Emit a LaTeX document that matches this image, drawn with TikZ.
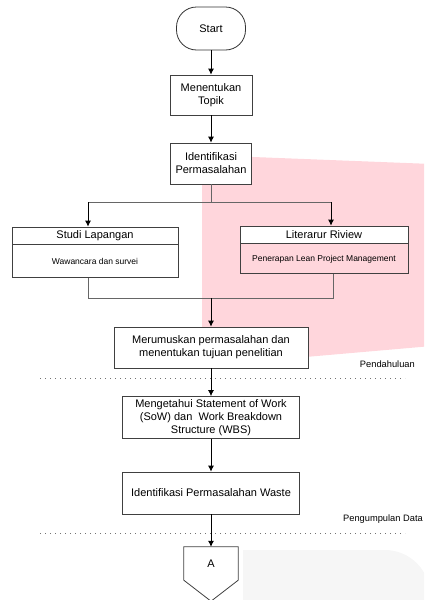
\documentclass[tikz,border=0pt]{standalone}
\usepackage{fontspec}
\setmainfont{Liberation Sans}
\usetikzlibrary{arrows.meta,positioning}
\definecolor{lanepink}{RGB}{255,214,220}
\definecolor{faintgray}{RGB}{246,246,246}

\begin{document}
\begin{tikzpicture}[x=1pt, y=-1pt, font=\fontsize{11}{13}\selectfont]
\tikzstyle{terminal} = [shape=rectangle, rounded corners=20pt, draw=black!80, fill=white, line width=0.8pt, minimum width=69pt, minimum height=43pt];
\tikzstyle{process} = [shape=rectangle, draw=black!75, fill=white, line width=0.8pt, align=center, inner sep=1pt];
\tikzstyle{lanehead} = [shape=rectangle, draw=black!75, fill=white, line width=0.8pt, minimum height=17pt, inner sep=0pt];
\tikzstyle{lanebody} = [shape=rectangle, draw=black!75, line width=0.8pt, inner sep=0pt, font=\fontsize{8.5}{10}\selectfont];
\tikzstyle{offpage} = [shape=rectangle, minimum width=54pt, minimum height=33pt, inner sep=0pt];
\tikzstyle{phase} = [anchor=east, inner sep=0pt, font=\fontsize{9.3}{11}\selectfont];
\tikzstyle{divider} = [draw=black!55, line width=1pt, dash pattern=on 1pt off 4pt];
\tikzstyle{flow} = [-{Latex[length=6pt,width=6pt]}, draw=black, line width=0.8pt];
\tikzstyle{link} = [draw=black!60, line width=0.8pt];

\useasboundingbox (0,0) rectangle (424,600);
\clip (0,0) rectangle (424,600);

% background patches
\fill[lanepink, rounded corners=8pt] (202,366) -- (202,155) -- (432,164) -- (432,346) -- cycle;
\fill[faintgray] (243,650) -- (243,550) -- (385,550) arc[start angle=270, end angle=360, radius=45] -- (430,650) -- cycle;

\node[terminal] (start) at (211,28.5) {Start};
\node[process, minimum width=82pt, minimum height=40pt] (topik) at (211,95) {Menentukan\\Topik};
\node[process, minimum width=81pt, minimum height=41pt] (ident) at (211,163.5) {Identifikasi\\Permasalahan};

\node[lanehead, minimum width=166pt] (studiH) at (95,235.5) {Studi Lapangan};
\node[lanebody, fill=white, minimum width=166pt, minimum height=33pt, below=0pt of studiH] (studiB) {Wawancara dan survei};
\node[lanehead, minimum width=168pt] (litH) at (324,234.5) {Literarur Riview};
\node[lanebody, minimum width=168pt, minimum height=30pt, below=0pt of litH] (litB) {Penerapan Lean Project Management};

\coordinate (split) at (211,202);
\coordinate (studiIn) at (88,202);
\coordinate (litIn) at (331,202);
\coordinate (studiOut) at (88,298);
\coordinate (litOut) at (333,298);
\coordinate (merge) at (211,298);

\node[process, minimum width=194pt, minimum height=41pt] (merum) at (211,347.5) {Merumuskan permasalahan dan\\menentukan tujuan penelitian};
\node[phase] (pendahuluan) at (415,364) {Pendahuluan};
\coordinate (divA) at (40,378);
\coordinate (divAend) at (405,378);

\node[process, minimum width=177pt, minimum height=42pt] (sow) at (211,417.5) {Mengetahui Statement of Work\\(SoW) dan~ Work Breakdown\\Structure (WBS)};
\node[process, minimum width=177pt, minimum height=42pt] (waste) at (211,493) {Identifikasi Permasalahan Waste};
\node[phase] (pengumpulan) at (423,519) {Pengumpulan Data};
\coordinate (divB) at (40,533);
\coordinate (divBend) at (405,533);

\node[offpage] (offA) at (211,563.5) {A};
\draw[line width=0.8pt, draw=black!75] (offA.north west) -- (offA.north east) -- (offA.south east) -- ([yshift=-21pt]offA.south) -- (offA.south west) -- cycle;

\draw[flow] (start) -- (topik);
\draw[flow] (topik) -- (ident);
\draw[link] (ident) -- (split);
\draw[link] (studiIn) -- (litIn);
\draw[flow] (studiIn) -- (studiIn |- studiH.north);
\draw[flow] (litIn) -- (litIn |- litH.north);
\draw[link] (studiOut |- studiB.south) -- (studiOut) -- (litOut) -- (litOut |- litB.south);
\draw[flow] (merge) -- (merum);
\draw[flow] (merum) -- (sow);
\draw[flow] (sow) -- (waste);
\draw[flow] (waste) -- (offA);

\draw[divider] (divA) -- (divAend);
\draw[divider] (divB) -- (divBend);
\end{tikzpicture}
\end{document}
